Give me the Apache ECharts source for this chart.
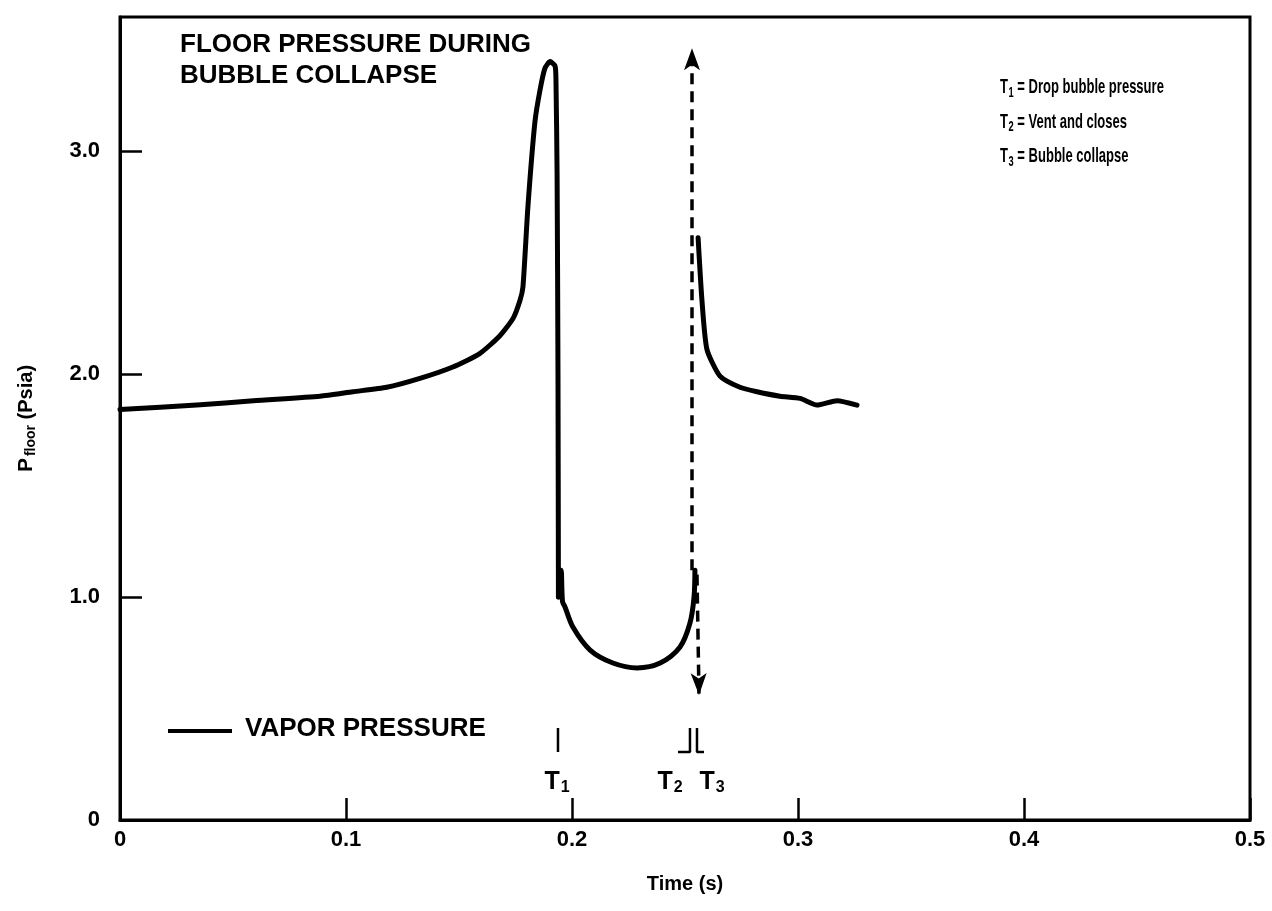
<!DOCTYPE html>
<html>
<head>
<meta charset="utf-8">
<script src="https://cdn.jsdelivr.net/npm/echarts@6/dist/echarts.min.js"></script>
<style>html,body{margin:0;padding:0;background:#fff}#c{width:1272px;height:911px}</style>
</head>
<body>
<div id="c"></div>
<script>
// ---- data ----
var timeA = [0, 0.034, 0.059, 0.0885, 0.103, 0.118, 0.1327, 0.147, 0.159, 0.168, 0.174, 0.177, 0.1783, 0.1805, 0.1836, 0.1858, 0.188, 0.1903, 0.1925, 0.1929, 0.1934, 0.1938, 0.1940];
var pressA = [1.84, 1.86, 1.88, 1.90, 1.92, 1.94, 1.98, 2.03, 2.09, 2.17, 2.25, 2.33, 2.39, 2.75, 3.13, 3.27, 3.37, 3.40, 3.38, 3.32, 2.90, 2.00, 1.00];
var timeDip = [0.1940, 0.1952, 0.1958, 0.1969, 0.2004, 0.208, 0.2181, 0.2288, 0.239, 0.2478, 0.2522, 0.254, 0.2544];
var pressDip = [1.00, 1.12, 0.98, 0.955, 0.865, 0.762, 0.704, 0.682, 0.704, 0.776, 0.883, 1.00, 1.12];
var timeB = [0.2558, 0.2575, 0.2597, 0.2655, 0.2743, 0.2819, 0.292, 0.3009, 0.3084, 0.3173, 0.3261];
var pressB = [2.61, 2.33, 2.11, 1.99, 1.94, 1.92, 1.90, 1.89, 1.86, 1.88, 1.86];
var xTicks = [0, 0.1, 0.2, 0.3, 0.4, 0.5];
var xTickLabels = ['0', '0.1', '0.2', '0.3', '0.4', '0.5'];
var yTicks = [0, 1, 2, 3];
var yTickLabels = ['0', '1.0', '2.0', '3.0'];
var eventIndex = ['1', '2', '3'];
var eventTimes = [0.1934, 0.2434, 0.262];
var eventDesc = ['Drop bubble pressure', 'Vent and closes', 'Bubble collapse'];

function zip(a, b) { return a.map(function (v, i) { return [v, b[i]]; }); }
function lbl(ticks, labels) {
  return function (v) {
    for (var i = 0; i < ticks.length; i++) if (Math.abs(ticks[i] - v) < 1e-9) return labels[i];
    return '';
  };
}
var F = 'Liberation Sans';
var chart = echarts.init(document.getElementById('c'));
var black = '#000';
var curveStyle = { color: black, width: 5, join: 'round', cap: 'round' };
var option = {
  backgroundColor: '#fff',
  animation: false,
  grid: { left: 120, right: 22, top: 17, bottom: 91, show: true, borderColor: black, borderWidth: 3, backgroundColor: 'transparent' },
  xAxis: {
    type: 'value', min: 0, max: 0.5, interval: 0.1,
    name: 'Time (s)', nameLocation: 'middle', nameGap: 54,
    nameTextStyle: { fontFamily: F, fontWeight: 'bold', fontSize: 20, color: black },
    axisLine: { lineStyle: { color: black, width: 3 } },
    axisTick: { inside: true, length: 22, lineStyle: { color: black, width: 2.5 } },
    axisLabel: { formatter: lbl(xTicks, xTickLabels), margin: 9, fontFamily: F, fontWeight: 'bold', fontSize: 22, color: black },
    splitLine: { show: false }
  },
  yAxis: {
    type: 'value', min: 0, max: 3.6, interval: 1,
    name: '{p|P}{s|floor} (Psia)', nameLocation: 'middle', nameGap: 82, nameRotate: 90,
    nameTextStyle: { fontFamily: F, fontWeight: 'bold', fontSize: 20, color: black,
      rich: { p: { fontFamily: F, fontWeight: 'bold', fontSize: 21, color: black },
              s: { fontFamily: F, fontWeight: 'bold', fontSize: 14, color: black, padding: [10, 0, 0, 2] } } },
    axisLine: { lineStyle: { color: black, width: 3 } },
    axisTick: { inside: true, length: 22, lineStyle: { color: black, width: 2.5 } },
    axisLabel: { formatter: lbl(yTicks, yTickLabels), margin: 20, fontFamily: F, fontWeight: 'bold', fontSize: 22, color: black, showMaxLabel: false },
    splitLine: { show: false }
  },
  series: [
    { type: 'line', data: zip(timeA, pressA), symbol: 'none', smooth: 0.2, lineStyle: curveStyle },
    { type: 'line', data: zip(timeDip, pressDip), symbol: 'none', smooth: 0.3, lineStyle: curveStyle },
    { type: 'line', data: zip(timeB, pressB), symbol: 'none', smooth: 0.2, lineStyle: curveStyle,
      markLine: {
        silent: true, symbol: ['none', 'arrow'], symbolSize: [12, 22], label: { show: false },
        lineStyle: { color: black, width: 3.5, type: [11, 7] },
        data: [
          [{ coord: [0.2531, 1.12] }, { coord: [0.2531, 3.46] }],
          [{ coord: [0.2553, 1.10] }, { coord: [0.2562, 0.56] }]
        ]
      } },
    { type: 'line', data: [[0.1938, 0.413], [0.1938, 0.305]], symbol: 'none', lineStyle: { color: black, width: 2.5 } },
    { type: 'line', data: [[0.2469, 0.305], [0.2522, 0.305], [0.2522, 0.413]], symbol: 'none', lineStyle: { color: black, width: 2.5 } },
    { type: 'line', data: [[0.2553, 0.413], [0.2553, 0.305], [0.2584, 0.305]], symbol: 'none', lineStyle: { color: black, width: 2.5 } },
    { type: 'scatter', symbolSize: 0, silent: true, itemStyle: { color: black, opacity: 1 },
      data: eventIndex.map(function (n, i) { return { name: n, value: [eventTimes[i], 0.17] }; }),
      label: { show: true, position: 'inside', color: black, opacity: 1, formatter: '{t|T}{s|{b}}',
        rich: { t: { fontFamily: F, fontWeight: 'bold', fontSize: 25, color: black },
                s: { fontFamily: F, fontWeight: 'bold', fontSize: 16, color: black, padding: [12, 0, 0, 1] } } } }
  ],
  graphic: [
    { type: 'text', left: 180, top: 29, style: { text: 'FLOOR PRESSURE DURING\nBUBBLE COLLAPSE', font: 'bold 26px "Liberation Sans"', fill: black, lineHeight: 31 } },
    { type: 'text', left: 1000, top: 75, scaleX: 0.62,
      style: { text: eventIndex.map(function (n, i) { return '{t|T}{s|' + n + '}{t| = ' + eventDesc[i] + '}'; }).join('\n'),
        fill: black,
        rich: { t: { fontFamily: F, fontWeight: 'bold', fontSize: 21, color: black, lineHeight: 34.5 },
                s: { fontFamily: F, fontWeight: 'bold', fontSize: 15, color: black, lineHeight: 34.5, padding: [10, 0, 0, 1] } } } },
    { type: 'line', shape: { x1: 168, y1: 731, x2: 232, y2: 731 }, style: { stroke: black, lineWidth: 4 } },
    { type: 'text', left: 245, top: 716, style: { text: 'VAPOR PRESSURE', font: 'bold 26px "Liberation Sans"', fill: black } }
  ]
};
chart.setOption(option);
</script>
</body>
</html>
